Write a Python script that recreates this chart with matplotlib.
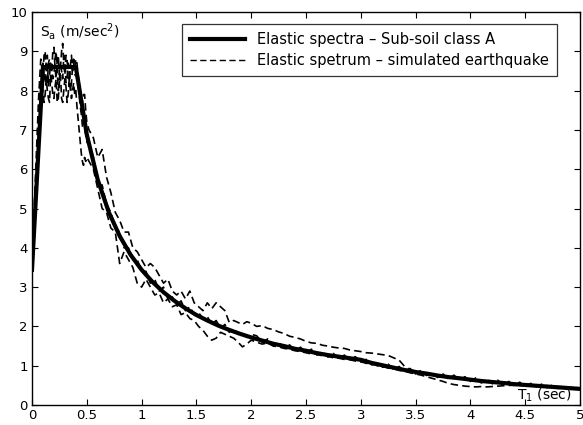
import numpy as np
import matplotlib
matplotlib.use("Agg")
import matplotlib.pyplot as plt
from matplotlib.lines import Line2D

plt.rcParams['font.family'] = ['DejaVu Sans']
plt.rcParams['mathtext.default'] = 'regular'

# ---- Elastic design spectrum (sub-soil class A) ----
T_design = [0.0, 0.1, 0.4, 0.5, 0.6, 0.7, 0.8, 0.9, 1.0, 1.1, 1.2, 1.3, 1.4, 1.5,
            1.6, 1.7, 1.8, 1.9, 2.0, 2.1, 2.2, 2.3, 2.4, 2.5, 2.6, 2.7, 2.8, 2.9,
            3.0, 3.1, 3.2, 3.3, 3.4, 3.5, 3.6, 3.7, 3.8, 3.9, 4.0, 4.1, 4.2, 4.3,
            4.4, 4.5, 4.6, 4.7, 4.8, 4.9, 5.0]
Sa_design = [3.44, 8.6, 8.6, 6.88, 5.73, 4.91, 4.30, 3.82, 3.44, 3.13, 2.87, 2.65,
             2.46, 2.29, 2.15, 2.02, 1.91, 1.81, 1.72, 1.64, 1.56, 1.50, 1.43, 1.38,
             1.32, 1.27, 1.23, 1.19, 1.15, 1.07, 1.01, 0.95, 0.89, 0.84, 0.80, 0.75,
             0.71, 0.68, 0.645, 0.61, 0.585, 0.56, 0.53, 0.51, 0.49, 0.47, 0.45,
             0.43, 0.41]

# ---- Simulated earthquake spectra: period grid ----
T_sim = np.round(np.concatenate([np.arange(0.0, 0.5001, 0.01),
                                 np.arange(0.52, 2.001, 0.04),
                                 np.arange(2.05, 5.001, 0.05)]), 3)

sim_A = [3.9, 4.4, 5.0, 5.7, 6.4, 7.1, 7.8, 8.3, 8.8, 8.6, 8.4, 8.9, 9.0, 8.5, 8.2,
         8.7, 8.8, 8.3, 8.5, 9.0, 9.1, 8.6, 8.3, 8.8, 8.9, 8.4, 8.6, 9.0, 9.2, 8.7,
         8.4, 8.9, 8.8, 8.3, 8.1, 8.6, 8.9, 8.5, 8.8, 8.6, 8.8, 8.7, 8.4, 8.2, 8.0,
         7.8, 7.7, 7.9, 7.9, 7.5, 7.2,
         7.0, 6.8, 6.3, 6.5, 5.8, 5.4, 4.9, 4.7, 4.4, 4.4, 4.0, 3.9, 3.7, 3.5, 3.6, 3.5,
         3.3, 3.1, 3.2, 2.9, 2.8, 2.9, 2.7, 2.9, 2.6, 2.5, 2.4, 2.6, 2.45, 2.6, 2.5, 2.4,
         2.1, 2.15, 2.1, 2.05, 2.12, 2.08,
         2.0, 2.02, 1.95, 1.92, 1.86, 1.82, 1.75, 1.72, 1.68, 1.62, 1.58, 1.57, 1.52,
         1.50, 1.47, 1.45, 1.44, 1.40, 1.38, 1.36, 1.33, 1.32, 1.30, 1.28, 1.26, 1.20,
         1.14, 0.98, 0.90, 0.86, 0.84, 0.80, 0.79, 0.76, 0.75, 0.72, 0.71, 0.69, 0.68,
         0.66, 0.64, 0.63, 0.61, 0.60, 0.58, 0.58, 0.56, 0.55, 0.53, 0.53, 0.51, 0.51,
         0.49, 0.49, 0.47, 0.47, 0.45, 0.45, 0.43, 0.43]

sim_B = [3.3, 3.7, 4.2, 4.9, 5.6, 6.3, 6.9, 7.5, 7.9, 8.1, 8.0, 7.7, 7.9, 8.3, 8.0,
         7.8, 7.7, 8.4, 8.2, 7.9, 7.8, 8.1, 8.3, 7.7, 7.8, 8.2, 8.4, 7.8, 7.7, 8.0,
         8.3, 8.1, 7.7, 7.9, 8.3, 8.2, 7.8, 8.0, 8.2, 7.9, 8.0, 7.6, 7.3, 7.0, 6.7,
         6.4, 6.2, 6.1, 6.3, 6.2, 6.3,
         6.2, 6.0, 5.5, 5.0, 4.9, 4.5, 4.4, 3.6, 3.9, 3.7, 3.5, 3.1, 3.0, 3.2, 3.0, 2.8,
         2.85, 2.6, 2.7, 2.5, 2.55, 2.3, 2.35, 2.2, 2.15, 2.0, 1.9, 1.75, 1.65, 1.7, 1.85,
         1.8, 1.75, 1.7, 1.6, 1.48, 1.55, 1.65,
         1.6, 1.55, 1.58, 1.50, 1.48, 1.44, 1.42, 1.38, 1.36, 1.33, 1.30, 1.29, 1.25,
         1.24, 1.20, 1.19, 1.16, 1.15, 1.12, 1.10, 1.06, 1.04, 1.00, 0.98, 0.94, 0.92,
         0.88, 0.86, 0.82, 0.79, 0.76, 0.72, 0.68, 0.64, 0.60, 0.55, 0.52, 0.50, 0.48,
         0.47, 0.46, 0.47, 0.46, 0.47, 0.48, 0.49, 0.50, 0.50, 0.50, 0.49, 0.49, 0.48,
         0.47, 0.46, 0.45, 0.44, 0.43, 0.42, 0.41, 0.40]

sim_C = [3.6, 4.1, 4.7, 5.3, 5.9, 6.6, 7.2, 7.8, 8.3, 8.5, 8.7, 8.3, 8.2, 8.8, 8.9,
         8.1, 8.4, 8.7, 8.6, 8.3, 8.4, 8.8, 9.0, 8.5, 8.0, 8.3, 8.6, 8.5, 8.3, 8.9,
         8.8, 8.2, 8.3, 8.7, 8.6, 8.0, 8.2, 8.6, 8.7, 8.4, 8.4, 8.3, 8.2, 7.9, 7.6,
         7.4, 7.1, 7.0, 7.0, 6.9, 6.7,
         6.6, 6.3, 5.6, 5.6, 5.1, 4.9, 4.5, 4.4, 4.0, 4.0, 3.7, 3.7, 3.4, 3.4, 3.1, 3.2,
         2.9, 3.0, 2.7, 2.75, 2.55, 2.65, 2.4, 2.5, 2.3, 2.35, 2.2, 2.25, 2.05, 2.15,
         1.95, 2.05, 1.85, 1.95, 1.8, 1.85, 1.72, 1.8,
         1.76, 1.60, 1.68, 1.52, 1.60, 1.45, 1.53, 1.38, 1.47, 1.33, 1.42, 1.27, 1.36,
         1.22, 1.31, 1.18, 1.27, 1.14, 1.23, 1.10, 1.16, 1.02, 1.10, 0.96, 1.04, 0.90,
         0.98, 0.84, 0.93, 0.79, 0.88, 0.75, 0.83, 0.70, 0.79, 0.66, 0.76, 0.63, 0.72,
         0.60, 0.69, 0.56, 0.66, 0.54, 0.63, 0.51, 0.60, 0.49, 0.58, 0.47, 0.55, 0.46,
         0.53, 0.44, 0.51, 0.42, 0.49, 0.41, 0.47, 0.40]

x_ticks = [0, 0.5, 1, 1.5, 2, 2.5, 3, 3.5, 4, 4.5, 5]
x_ticklabels = ['0', '0.5', '1', '1.5', '2', '2.5', '3', '3.5', '4', '4.5', '5']
y_ticks = list(range(0, 11))

fig = plt.figure(figsize=(5.83, 4.25), dpi=100)
ax = fig.add_axes([32/583, 20/425, 548/583, 393/425])

dash = (0, (4.5, 2.5))
for series in (sim_A, sim_B, sim_C):
    ax.plot(T_sim, series, color='black', lw=1.2, linestyle=dash)
ax.plot(T_design, Sa_design, color='black', lw=3.0, solid_joinstyle='miter')

h1 = Line2D([], [], color='black', lw=3.0)
h2 = Line2D([], [], color='black', lw=1.0, linestyle=dash)
leg = ax.legend([h1, h2], ['Elastic spectra \u2013 Sub-soil class A',
                           'Elastic spetrum \u2013 simulated earthquake'],
                loc='upper left', bbox_to_anchor=((182-32)/548, (405-24)/393),
                fontsize=10.5, frameon=True, fancybox=False, handlelength=3.8,
                borderpad=0.55, labelspacing=0.4, handletextpad=0.8,
                borderaxespad=0)
leg.get_frame().set_edgecolor('black')
leg.get_frame().set_linewidth(0.9)

ax.set_xlim(0, 5)
ax.set_ylim(0, 10)
ax.set_xticks(x_ticks)
ax.set_xticklabels(x_ticklabels)
ax.set_yticks(y_ticks)
ax.tick_params(direction='in', top=True, right=True, length=4, width=0.8,
               labelsize=9.5, pad=3)
for s in ax.spines.values():
    s.set_linewidth(1.0)

ax.text(0.014, 0.978, 'S$_a$ (m/sec$^2$)', transform=ax.transAxes,
        ha='left', va='top', fontsize=10)
ax.text(0.985, 0.014, 'T$_1$ (sec)', transform=ax.transAxes,
        ha='right', va='baseline', fontsize=10)

fig.savefig('out.png', dpi=100)
